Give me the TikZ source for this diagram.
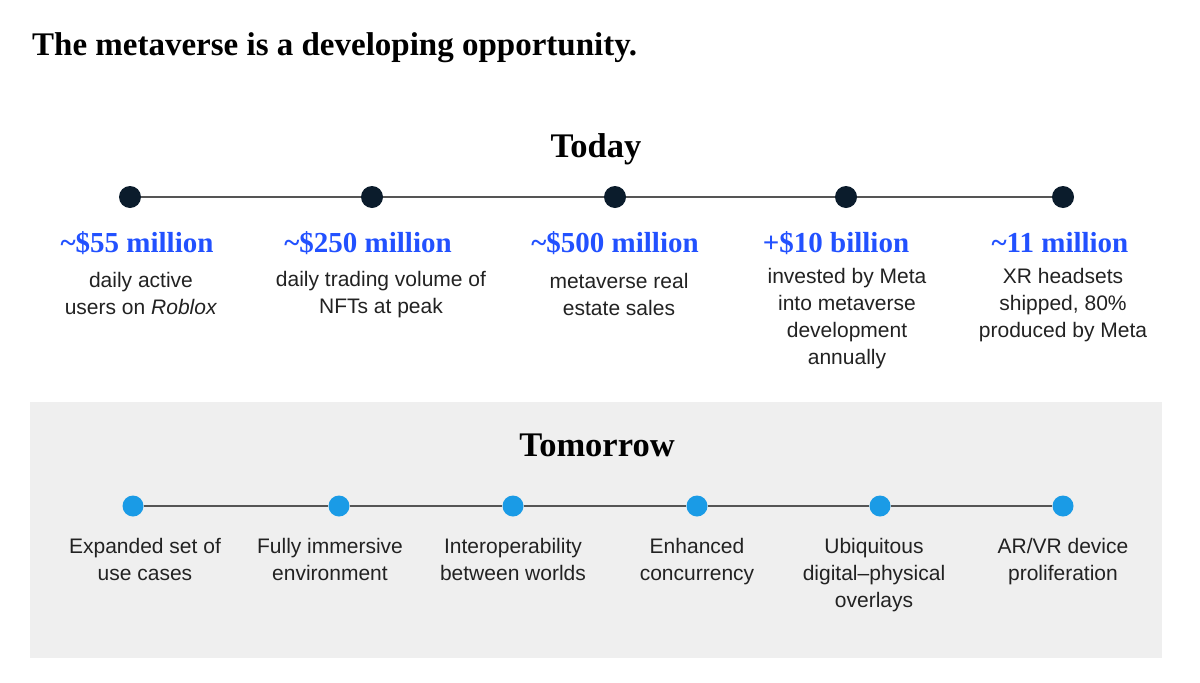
\documentclass[tikz,border=0pt]{standalone}
\usepackage{fontspec}
\setmainfont{Liberation Serif}
\setsansfont{Liberation Sans}
\definecolor{navy}{HTML}{0B1C2C}
\definecolor{mblue}{HTML}{2251FF}
\definecolor{cblue}{HTML}{1A9BE6}
\definecolor{boxgray}{HTML}{EFEFEF}
\definecolor{linegray}{HTML}{555555}
\definecolor{txt}{HTML}{222222}
\begin{document}
\begin{tikzpicture}[x=1pt,y=-1pt,
 tdot/.style={circle,fill=navy,minimum size=22pt,inner sep=0pt},
 mdot/.style={circle,fill=cblue,minimum size=21pt,inner sep=0pt},
 conn/.style={draw=linegray,line width=1.5pt},
 val/.style={font=\fontsize{29}{34}\selectfont\bfseries, text=mblue, anchor=base, inner sep=0pt},
 desc/.style={font=\sffamily\fontsize{21}{27}\selectfont, text=txt, align=center, anchor=north, inner sep=0pt},
 head/.style={font=\fontsize{34.5}{40}\selectfont\bfseries, text=black, anchor=base, inner sep=0pt}]
\useasboundingbox (0,0) rectangle (1200,683);
\fill[white] (0,0) rectangle (1200,683);
\node[font=\fontsize{33}{38}\selectfont\bfseries, text=black, anchor=base west, inner sep=0pt] (title) at (32,55) {The metaverse is a developing opportunity.};

% Today
\node[head] (today) at (596,157) {Today};
\node[tdot] (t1) at (130,197) {};
\node[tdot] (t2) at (372,197) {};
\node[tdot] (t3) at (615,197) {};
\node[tdot] (t4) at (846,197) {};
\node[tdot] (t5) at (1063,197) {};
\draw[conn] (t1) -- (t2);
\draw[conn] (t2) -- (t3);
\draw[conn] (t3) -- (t4);
\draw[conn] (t4) -- (t5);

\node[val] (v1) at (137,252) {\textasciitilde\$55 million};
\node[val] (v2) at (368,252) {\textasciitilde\$250 million};
\node[val] (v3) at (615,252) {\textasciitilde\$500 million};
\node[val] (v4) at (836,252) {+\$10 billion};
\node[val] (v5) at (1060,252) {\textasciitilde11 million};

\node[desc] (d1) at (141,272) {daily active\\users on \textit{Roblox}};
\node[desc] (d2) at (381,271) {daily trading volume of\\NFTs at peak};
\node[desc] (d3) at (619,273) {metaverse real\\estate sales};
\node[desc] (d4) at (847,268) {invested by Meta\\into metaverse\\development\\annually};
\node[desc] (d5) at (1063,268) {XR headsets\\shipped, 80\%\\produced by Meta};

% Tomorrow
\fill[boxgray] (30,402) rectangle (1162,658);
\node[head] (tomorrow) at (597,456) {Tomorrow};
\node[mdot] (m1) at (133,506) {};
\node[mdot] (m2) at (339,506) {};
\node[mdot] (m3) at (513,506) {};
\node[mdot] (m4) at (697,506) {};
\node[mdot] (m5) at (880,506) {};
\node[mdot] (m6) at (1063,506) {};
\draw[conn] (m1) -- (m2);
\draw[conn] (m2) -- (m3);
\draw[conn] (m3) -- (m4);
\draw[conn] (m4) -- (m5);
\draw[conn] (m5) -- (m6);

\node[desc] (e1) at (145,538) {Expanded set of\\use cases};
\node[desc] (e2) at (330,538) {Fully immersive\\environment};
\node[desc] (e3) at (513,538) {Interoperability\\between worlds};
\node[desc] (e4) at (697,538) {Enhanced\\concurrency};
\node[desc] (e5) at (874,538) {Ubiquitous\\digital--physical\\overlays};
\node[desc] (e6) at (1063,538) {AR/VR device\\proliferation};
\end{tikzpicture}
\end{document}
